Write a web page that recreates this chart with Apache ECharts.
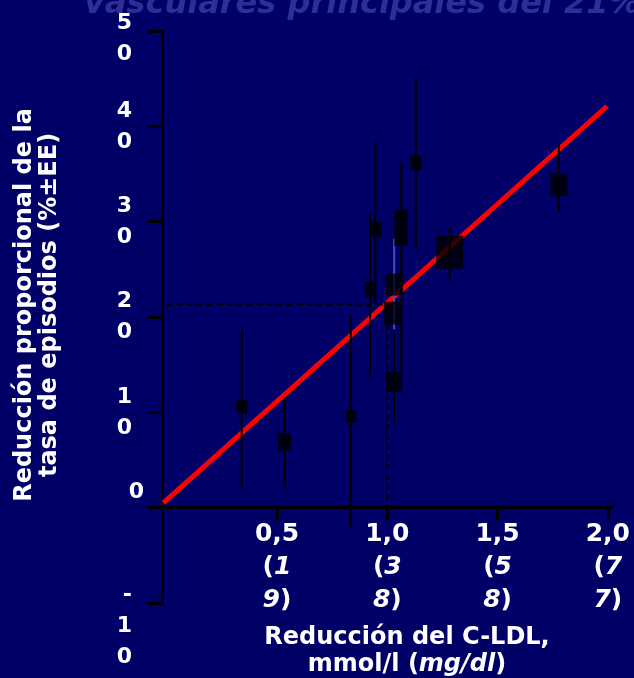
<!DOCTYPE html>
<html><head><meta charset="utf-8">
<script src="https://cdn.jsdelivr.net/npm/echarts@6/dist/echarts.min.js"></script>
<style>html,body{margin:0;padding:0;background:#000066;}#c{width:634px;height:678px;}</style>
</head><body><div id="c"></div>
<script>
// ---- data ----
const titleText = 'vasculares principales del 21%';
const yTitle = 'Reducción proporcional de la\ntasa de episodios (%±EE)';
const xTitleLine1 = 'Reducción del C-LDL,';
const xTitleLine2a = 'mmol/l (';
const xTitleLine2b = 'mg/dl';
const xTitleLine2c = ')';
const yTickValues = [0, 10, 20, 30, 40, 50];
const yNegTickValues = [-10];
const xTickValues = [0.5, 1.0, 1.5, 2.0];
const xTickMmol = ['0,5', '1,0', '1,5', '2,0'];
const xTickMgdl = ['19', '38', '58', '77'];
// trials: LDL reduction (mmol/l), proportional risk reduction (%), CI low / high
const ldlReduction = [0.340, 0.534, 0.835, 0.922, 0.946, 1.031, 1.023, 1.063, 1.031, 1.129, 1.283, 1.778];
const riskReduction = [10.6, 6.9, 9.6, 22.9, 29.2, 23.4, 20.4, 29.35, 13.2, 36.15, 26.8, 33.9];
const ciLow  = [2.0, 2.0, -2.0, 13.9, 21.4, 18.1, null, 14.25, 8.7, 27.1, 23.95, 31.0];
const ciHigh = [18.6, 11.5, 20.2, 30.9, 38.4, 28.2, null, 36.3, 18.7, 45.1, 29.5, 38.1];
const regressionX = [-0.015, 1.996];
const regressionY = [0.5, 42.1];
const refX = [0, 1.0, 1.0];
const refY = [21.3, 21.3, 0];

// ---- styles ----
const boxSizes = [[11,13],[13,17],[11,13],[11,15],[12,15],[18,22],[17,23],[14,36],[16,20],[11,14],[27,33],[17,22]];
const faintBar = 5;
const FONT = 'DejaVu Sans';
const X_MIN = -0.067, X_MAX = 2.019, Y_MIN = -10, Y_MAX = 50;

const chart = echarts.init(document.getElementById('c'));
const scatterData = ldlReduction.map((x, i) => [x, riskReduction[i]]);
const barData = [];
ldlReduction.forEach((x, i) => { if (ciLow[i] !== null) barData.push([x, ciLow[i], ciHigh[i], i === faintBar ? 1 : 0]); });

function yLabel(v) {
  if (v === 0) return '{z|0}\n{z| }';
  if (v < 0) return '{e| }\n{a| }\n{a|-}\n{a|' + String(-v)[0] + '}\n{a|' + String(-v)[1] + '}';
  const s = String(v);
  const lead = v === 50 ? '{e| }\n' : '';
  return lead + '{a|' + s[0] + '}\n{a|' + s[1] + '}';
}
function xLabel(v) {
  const i = xTickValues.findIndex(t => Math.abs(t - v) < 1e-6);
  if (i < 0) return '';
  return '{n|' + xTickMmol[i] + '}\n{n|(}{i|' + xTickMgdl[i][0] + '}\n{i|' + xTickMgdl[i][1] + '}{n|)}';
}
const yRich = {
  a: {fontFamily: FONT, fontSize: 22, fontWeight: 'bold', color: '#fff', lineHeight: 31, padding: [0, 12, 0, 0]},
  z: {fontFamily: FONT, fontSize: 22, fontWeight: 'bold', color: '#fff', lineHeight: 31},
  e: {fontFamily: FONT, fontSize: 10, color: '#fff', lineHeight: 16}
};

chart.setOption({
  backgroundColor: '#000066',
  animation: false,
  title: {
    text: titleText, left: 79, top: -16,
    textStyle: {fontFamily: FONT, fontSize: 32, fontWeight: 'bold', fontStyle: 'italic', color: '#2e2e96'}
  },
  grid: [
    {left: 152, right: 22, top: 31, bottom: 75, containLabel: false, outerBoundsMode: 'none'},
    {left: 152, right: 22, top: 31, bottom: 170.5, containLabel: false, outerBoundsMode: 'none'}
  ],
  xAxis: [
    {type: 'value', gridIndex: 0, min: X_MIN, max: X_MAX, show: false, splitLine: {show: false}},
    {
      type: 'value', gridIndex: 1, min: X_MIN, max: X_MAX,
      axisLine: {onZero: false, lineStyle: {color: '#000', width: 3}},
      axisTick: {show: true, customValues: xTickValues, length: 13, lineStyle: {color: '#000', width: 3}},
      axisLabel: {
        customValues: xTickValues, margin: 10, formatter: xLabel, lineHeight: 33, hideOverlap: false,
        rich: {
          n: {fontFamily: FONT, fontSize: 25, fontWeight: 'bold', color: '#fff', lineHeight: 33},
          i: {fontFamily: FONT, fontSize: 25, fontWeight: 'bold', fontStyle: 'italic', color: '#fff', lineHeight: 33}
        }
      },
      splitLine: {show: false},
      name: '{n|' + xTitleLine1 + '}\n{n|' + xTitleLine2a + '}{i|' + xTitleLine2b + '}{n|' + xTitleLine2c + '}',
      nameLocation: 'middle', nameGap: 117,
      nameTextStyle: {
        padding: [0, 0, 0, 50],
        rich: {
          n: {fontFamily: FONT, fontSize: 24, fontWeight: 'bold', color: '#fff', lineHeight: 27},
          i: {fontFamily: FONT, fontSize: 24, fontWeight: 'bold', fontStyle: 'italic', color: '#fff', lineHeight: 27}
        }
      }
    }
  ],
  yAxis: [
    {
      type: 'value', gridIndex: 0, position: 'left', min: Y_MIN, max: Y_MAX, interval: 10, offset: -10,
      axisLine: {show: true, onZero: false, lineStyle: {color: '#000', width: 3}},
      axisTick: {show: true, length: 14, lineStyle: {color: '#000', width: 3}},
      splitLine: {show: false},
      axisLabel: {
        customValues: yTickValues, margin: 18, formatter: yLabel, lineHeight: 31, hideOverlap: false,
        showMinLabel: true, showMaxLabel: true, rich: yRich
      },
      name: yTitle, nameLocation: 'middle', nameRotate: 90, nameGap: 100,
      nameTextStyle: {fontFamily: FONT, fontSize: 24, fontWeight: 'bold', color: '#fff', lineHeight: 25, padding: [0, 0, 0, 24]}
    },
    {type: 'value', gridIndex: 1, min: 0, max: 1, show: false, splitLine: {show: false}},
    {
      type: 'value', gridIndex: 0, position: 'left', min: Y_MIN, max: Y_MAX, offset: -10,
      axisLine: {show: false}, axisTick: {show: false}, splitLine: {show: false},
      axisLabel: {customValues: yNegTickValues, margin: 18, formatter: yLabel, lineHeight: 31,
                  hideOverlap: false, showMinLabel: true, rich: yRich}
    }
  ],
  series: [
    {type: 'line', data: regressionX.map((x, i) => [x, regressionY[i]]), showSymbol: false, symbol: 'none',
     lineStyle: {color: '#ff0000', width: 5}, z: 2},
    {type: 'line', data: refX.map((x, i) => [x, refY[i]]), showSymbol: false, symbol: 'none',
     lineStyle: {color: '#000', width: 2, type: [6, 4]}, z: 2},
    {type: 'custom', data: barData, z: 3,
     renderItem: (params, api) => {
       const x = api.value(0);
       const p1 = api.coord([x, api.value(1)]);
       const p2 = api.coord([x, api.value(2)]);
       return {type: 'line', shape: {x1: p1[0], y1: p1[1], x2: p2[0], y2: p2[1]},
               style: {stroke: api.value(3) ? '#4a4ab8' : '#000', lineWidth: 2}};
     }},
    {type: 'scatter', data: scatterData, symbol: 'rect', z: 4,
     symbolSize: (val, params) => boxSizes[params.dataIndex],
     itemStyle: {color: '#000'}}
  ]
});
</script>
</body></html>
